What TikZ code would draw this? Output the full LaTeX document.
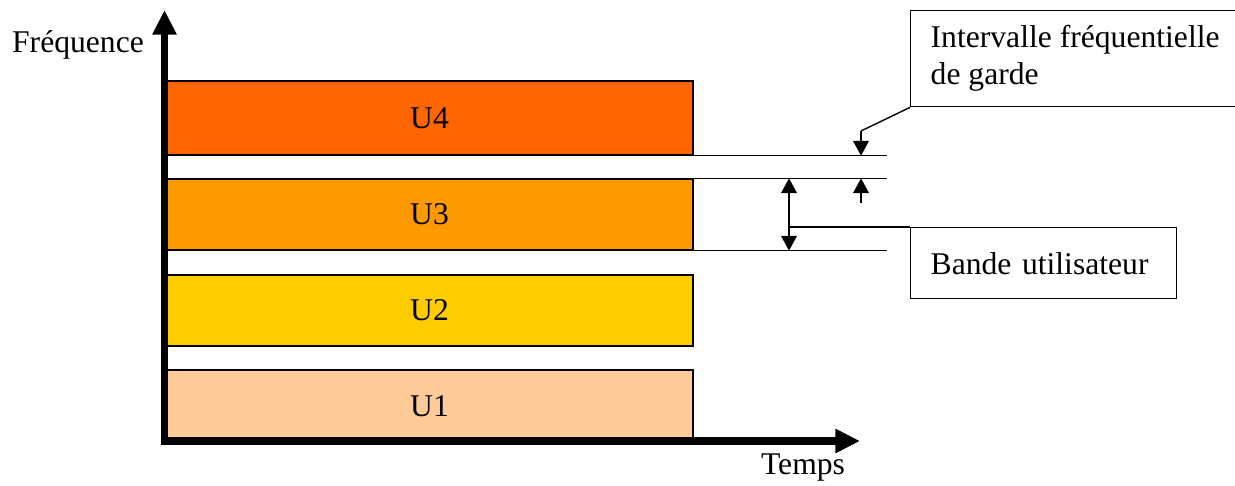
\documentclass[tikz,border=0pt]{standalone}
\usepackage{fontspec}
\setmainfont{Liberation Serif}
\usepackage{xcolor}
\usetikzlibrary{arrows.meta,
								positioning,
								calc}
\definecolor{coulU4}{HTML}{FF6600}
\definecolor{coulU3}{HTML}{FF9900}
\definecolor{coulU2}{HTML}{FFCC00}
\definecolor{coulU1}{HTML}{FFCC99}

\begin{document}
\begin{tikzpicture}[x=0.02cm, y=-0.02cm,
  every node/.style={font=\fontsize{18}{21}\selectfont},
  bande/.style={draw, line width=0.8pt, minimum width=10.54cm, inner sep=0pt},
  legende/.style={draw, line width=0.8pt, align=left, anchor=north west, inner xsep=0.4cm},
  trait/.style={line width=0.8pt},
  fleche/.style={trait, -{Triangle[length=8.5pt, width=9pt]}},
  axe/.style={line width=4pt, -{Triangle[length=14pt, width=13pt]}}]
  \useasboundingbox (0,0) rectangle (1235,486);

  % Bandes des utilisateurs
  \node[bande, fill=coulU4, minimum height=1.48cm] (u4) at (429.5,118)   {U4};
  \node[bande, fill=coulU3, minimum height=1.42cm] (u3) at (429.5,214.5) {U3};
  \node[bande, fill=coulU2, minimum height=1.42cm] (u2) at (429.5,310.5) {U2};
  \node[bande, fill=coulU1, minimum height=1.44cm] (u1) at (429.5,406)   {U1};

  % Axes
  \coordinate (origine) at (164.5,441);
  \coordinate (haut) at (164.5,10);
  \coordinate (droite) at (860,441);
  \draw[axe] (origine |- u1.south) ++(0,2) -- (haut);
  \draw[axe] (161,441) -- (droite);
  \node (freq) at (78,45) {Fréquence};
  \node (temps) at (803,468) {Temps};

  % Lignes de repere
  \draw[trait] (u4.south east) -- ++(193,0);
  \draw[trait] (u3.north east) -- ++(193,0);
  \draw[trait] (u3.south east) -- ++(193,0);

  % Legendes
  \node[legende, minimum height=1.92cm] (garde) at (910,10)
    {Intervalle fréquentielle\\de garde};
  \node[legende, minimum width=5.32cm, minimum height=1.42cm, text width=4.52cm] (bandeu) at (910,227)
    {Bande utilisateur};

  % Intervalle de garde
  \coordinate (gh) at (861,131);
  \coordinate (gb) at (861,203);
  \draw[trait] (garde.south west) -- (gh);
  \draw[fleche] (gh) -- (gh |- u4.south);
  \draw[fleche] (gb) -- (gb |- u3.north);

  % Bande utilisateur
  \coordinate (bu) at (789,227);
  \draw[fleche] (bu) -- (bu |- u3.north);
  \draw[fleche] (bu) -- (bu |- u3.south);
  \draw[trait] (bu) -- (bandeu.north west);
\end{tikzpicture}
\end{document}
